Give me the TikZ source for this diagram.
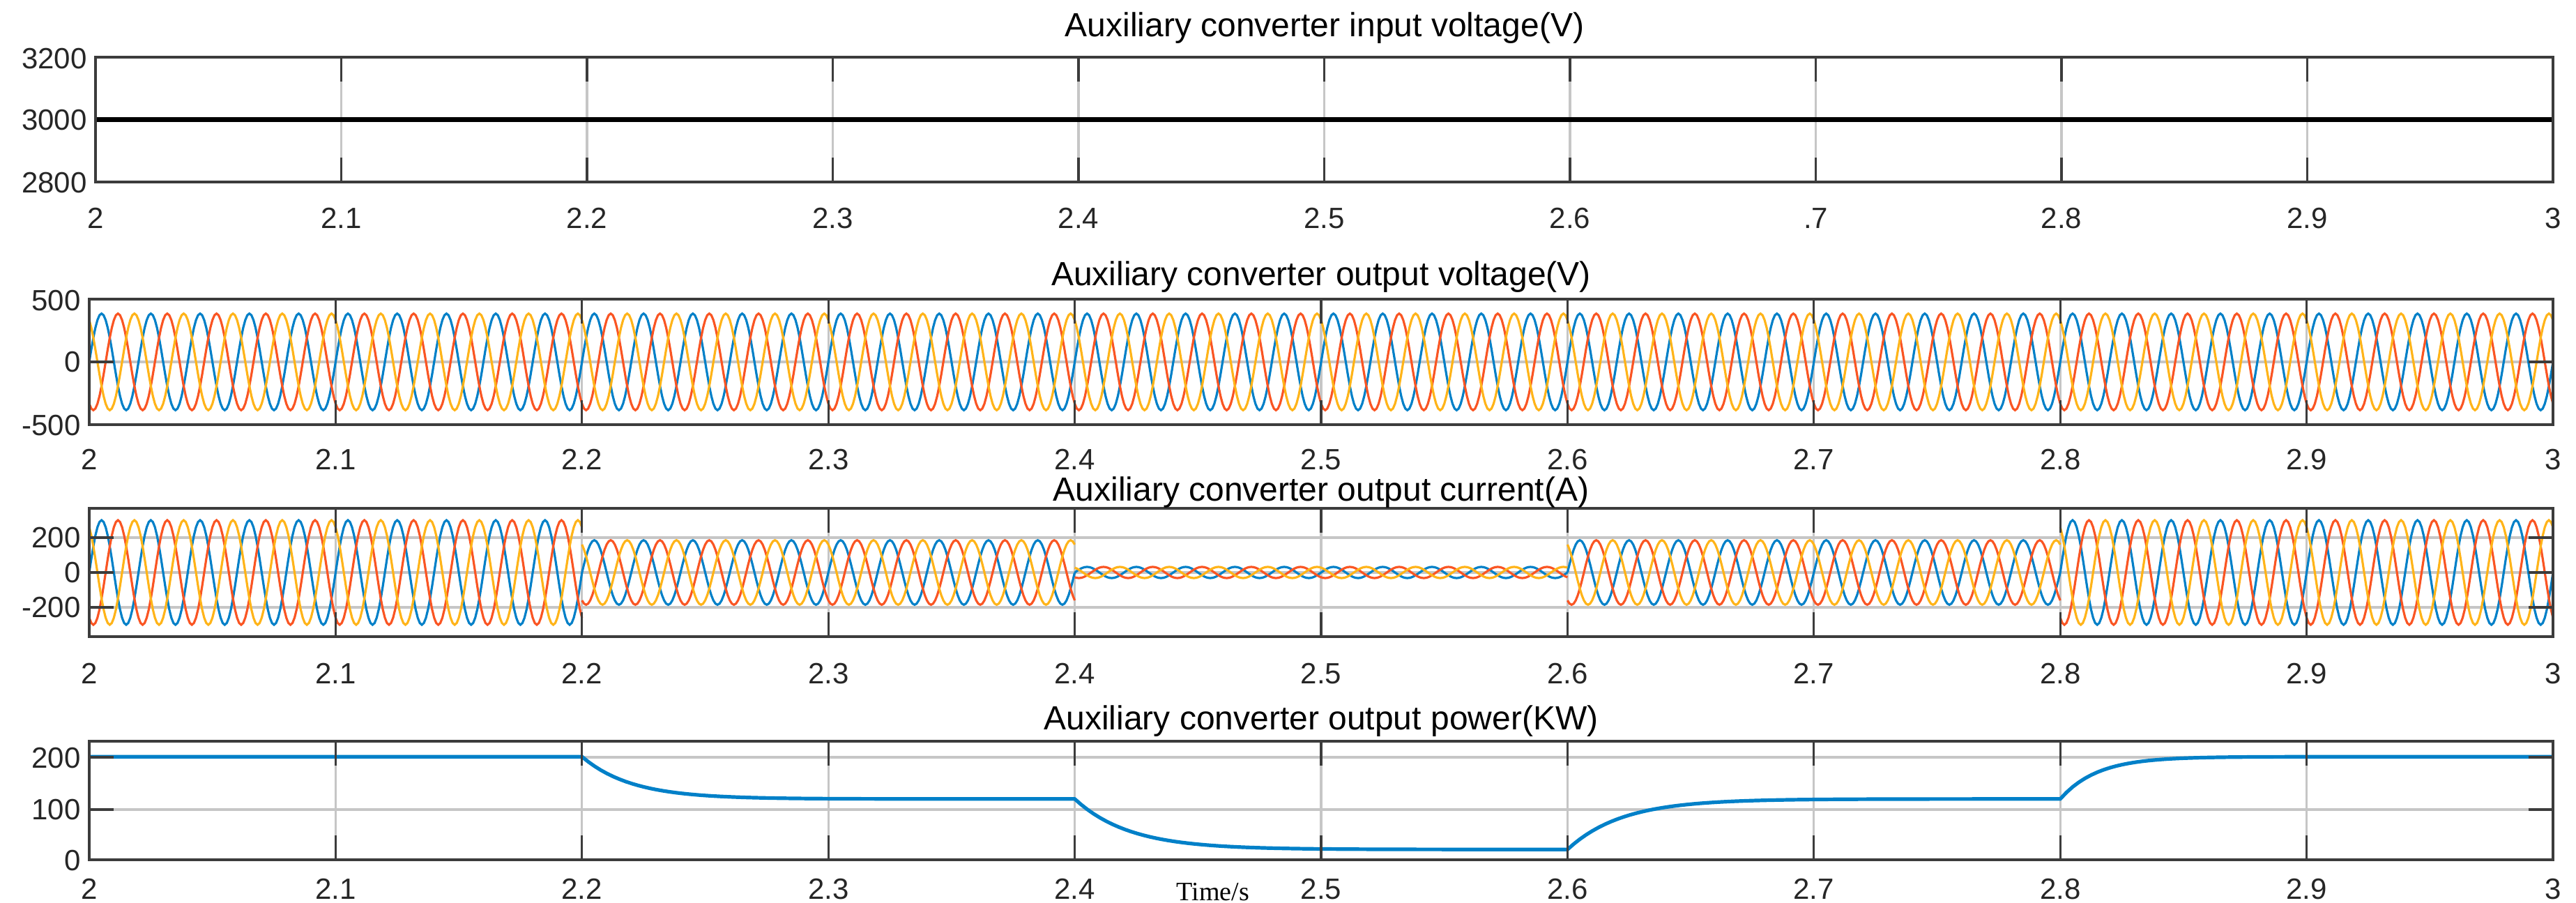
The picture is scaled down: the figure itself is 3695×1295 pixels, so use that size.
\documentclass[tikz,border=0pt]{standalone}
\usepackage{fontspec}
\setmainfont{Liberation Sans}
\newfontfamily\timesfont{Liberation Serif}
\definecolor{mblue}{RGB}{0,128,200}
\definecolor{mred}{RGB}{250,85,35}
\definecolor{myel}{RGB}{255,180,25}
\definecolor{axc}{RGB}{60,60,60}
\tikzset{
  gridl/.style={gray!45,line width=1.6pt},
  frame/.style={axc,line width=2.2pt},
  tickl/.style={font=\fontsize{21}{24}\selectfont,text=black!85,inner sep=0pt},
  titl/.style={font=\fontsize{24}{27}\selectfont,text=black,inner sep=0pt},
  wave/.style={line width=1.6pt},
}
\begin{document}
\begin{tikzpicture}[x=0.5pt,y=-0.5pt]
\useasboundingbox (0,0) rectangle (3695,1295);
\fill[white] (0,0) rectangle (3695,1295);
% ---------- panel 1 ----------
\begin{scope}
\foreach \i in {1,...,9} \draw[gridl] ({137+\i*352.5},82) -- ({137+\i*352.5},261);
\draw[black,line width=3.2pt] (137,171.5) -- (3662,171.5);
\draw[frame] (137,82) rectangle (3662,261);
\foreach \i in {1,...,9} {\draw[axc,line width=1.6pt] ({137+\i*352.5},82) -- ++(0,35); \draw[axc,line width=1.6pt] ({137+\i*352.5},261) -- ++(0,-35);}
\node[tickl,anchor=east] (y1a) at (125,84) {3200};
\node[tickl,anchor=east] (y1b) at (125,172) {3000};
\node[tickl,anchor=east] (y1c) at (125,262) {2800};
\foreach \i/\l in {0/2,1/2.1,2/2.2,3/2.3,4/2.4,5/2.5,6/2.6,7/.7,8/2.8,9/2.9,10/3}
  \node[tickl] (x1\i) at ({137+\i*352.5},313) {\l};
\node[titl] (t1) at (1900,40) {Auxiliary converter input voltage(V)};
\end{scope}
% ---------- panel 2 ----------
\begin{scope}
\foreach \i in {1,...,9} \draw[gridl] ({128+\i*353.4},429) -- ({128+\i*353.4},609);
\draw[gridl] (128,519) -- (3662,519);
\begin{scope}[shift={(128,519)},xscale=3.534,yscale=-0.18]
\foreach \a in {0,200,400,600,800}{
\draw[wave,mblue] plot[domain=0:200,samples=241] (\x+\a,{385*sin(18*\x)});
\draw[wave,mred] plot[domain=0:200,samples=241] (\x+\a,{385*sin(18*\x-120)});
\draw[wave,myel] plot[domain=0:200,samples=241] (\x+\a,{385*sin(18*\x+120)});
}
\end{scope}
\draw[frame] (128,429) rectangle (3662,609);
\foreach \i in {1,...,9} {\draw[axc,line width=1.6pt] ({128+\i*353.4},429) -- ++(0,35); \draw[axc,line width=1.6pt] ({128+\i*353.4},609) -- ++(0,-35);}
\draw[axc,line width=1.6pt] (128,519) -- ++(35,0) (3662,519) -- ++(-35,0);
\node[tickl,anchor=east] (y2a) at (116,431) {500};
\node[tickl,anchor=east] (y2b) at (116,519) {0};
\node[tickl,anchor=east] (y2c) at (116,610) {-500};
\foreach \i/\l in {0/2,1/2.1,2/2.2,3/2.3,4/2.4,5/2.5,6/2.6,7/2.7,8/2.8,9/2.9,10/3}
  \node[tickl] (x2\i) at ({128+\i*353.4},659) {\l};
\node[titl] (t2) at (1895,397) {Auxiliary converter output voltage(V)};
\end{scope}
% ---------- panel 3 ----------
\begin{scope}
\foreach \i in {1,...,9} \draw[gridl] ({128+\i*353.4},729) -- ({128+\i*353.4},913);
\foreach \yy in {771,821,871} \draw[gridl] (128,\yy) -- (3662,\yy);
\begin{scope}[shift={(128,821)},xscale=3.534,yscale=-0.25]
\foreach \a/\A in {0/300,200/185,400/32,600/185,800/300}{
\draw[wave,mblue] plot[domain=0:200,samples=241] (\x+\a,{\A*sin(18*\x)});
\draw[wave,mred] plot[domain=0:200,samples=241] (\x+\a,{\A*sin(18*\x-120)});
\draw[wave,myel] plot[domain=0:200,samples=241] (\x+\a,{\A*sin(18*\x+120)});
}
\end{scope}
\draw[frame] (128,729) rectangle (3662,913);
\foreach \i in {1,...,9} {\draw[axc,line width=1.6pt] ({128+\i*353.4},729) -- ++(0,35); \draw[axc,line width=1.6pt] ({128+\i*353.4},913) -- ++(0,-35);}
\foreach \yy in {771,821,871} \draw[axc,line width=1.6pt] (128,\yy) -- ++(35,0) (3662,\yy) -- ++(-35,0);
\node[tickl,anchor=east] (y3a) at (116,771) {200};
\node[tickl,anchor=east] (y3b) at (116,821) {0};
\node[tickl,anchor=east] (y3c) at (116,871) {-200};
\foreach \i/\l in {0/2,1/2.1,2/2.2,3/2.3,4/2.4,5/2.5,6/2.6,7/2.7,8/2.8,9/2.9,10/3}
  \node[tickl] (x3\i) at ({128+\i*353.4},966) {\l};
\node[titl] (t3) at (1895,706) {Auxiliary converter output current(A)};
\end{scope}
% ---------- panel 4 ----------
\begin{scope}
\foreach \i in {1,...,9} \draw[gridl] ({128+\i*353.4},1063) -- ({128+\i*353.4},1233);
\foreach \yy in {1086,1161} \draw[gridl] (128,\yy) -- (3662,\yy);
\begin{scope}[shift={(128,1233)},xscale=3.534,yscale=-0.739]
\draw[wave,mblue,line width=2.6pt] (0,200) -- (200,200)
  -- plot[domain=200:400,samples=80] (\x,{118+82*exp(-(\x-200)/20)})
  -- plot[domain=400:600,samples=80] (\x,{20+98*exp(-(\x-400)/22)})
  -- plot[domain=600:800,samples=80] (\x,{118-98*exp(-(\x-600)/22)})
  -- plot[domain=800:1000,samples=80] (\x,{200-82*exp(-(\x-800)/15)});
\end{scope}
\draw[frame] (128,1063) rectangle (3662,1233);
\foreach \i in {1,...,9} {\draw[axc,line width=1.6pt] ({128+\i*353.4},1063) -- ++(0,35); \draw[axc,line width=1.6pt] ({128+\i*353.4},1233) -- ++(0,-35);}
\foreach \yy in {1086,1161} \draw[axc,line width=1.6pt] (128,\yy) -- ++(35,0) (3662,\yy) -- ++(-35,0);
\node[tickl,anchor=east] (y4a) at (116,1087) {200};
\node[tickl,anchor=east] (y4b) at (116,1161) {100};
\node[tickl,anchor=east] (y4c) at (116,1234) {0};
\foreach \i/\l in {0/2,1/2.1,2/2.2,3/2.3,4/2.4,5/2.5,6/2.6,7/2.7,8/2.8,9/2.9,10/3}
  \node[tickl] (x4\i) at ({128+\i*353.4},1275) {\l};
\node[titl] (t4) at (1895,1034) {Auxiliary converter output power(KW)};
\node[font=\timesfont\fontsize{19}{22}\selectfont,inner sep=0pt] (tl) at (1740,1279) {Time/s};
\end{scope}
\end{tikzpicture}
\end{document}
